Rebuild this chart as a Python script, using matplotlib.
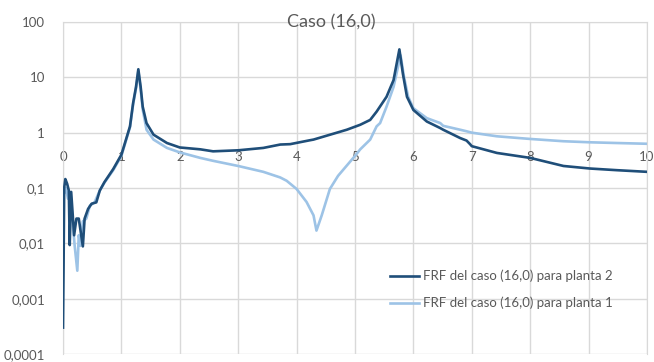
import matplotlib.pyplot as plt
from matplotlib.ticker import FixedLocator, NullLocator, FuncFormatter

# FRF planta 2 (dark)
x_p2 = [0.0, 0.01, 0.02, 0.04, 0.07, 0.1, 0.115, 0.14, 0.19, 0.23, 0.27, 0.34, 0.37,
        0.43, 0.49, 0.57, 0.63, 0.71, 0.86, 1.0, 1.147, 1.2, 1.25, 1.29, 1.33, 1.365,
        1.43, 1.55, 1.78, 2.0, 2.35, 2.57, 3.0, 3.43, 3.72, 3.89, 4.23, 4.29, 4.86,
        5.09, 5.26, 5.37, 5.54, 5.66, 5.76, 5.82, 5.89, 6.0, 6.23, 6.46, 6.51, 6.8,
        6.91, 6.97, 7.0, 7.43, 8.0, 8.57, 9.02, 9.48, 10.0]
y_p2 = [0.0003, 0.004, 0.1, 0.145, 0.12, 0.09, 0.0093, 0.085, 0.014, 0.028, 0.028, 0.0088, 0.028,
        0.042, 0.052, 0.055, 0.09, 0.128, 0.22, 0.4, 1.3, 3.4, 6.7, 14.0, 6.7, 2.95,
        1.49, 0.92, 0.65, 0.54, 0.50, 0.46, 0.48, 0.53, 0.61, 0.62, 0.73, 0.75, 1.13,
        1.39, 1.7, 2.4, 4.45, 8.9, 32.0, 11.6, 4.45, 2.57, 1.59, 1.21, 1.13, 0.80,
        0.72, 0.62, 0.57, 0.43, 0.35, 0.25, 0.225, 0.21, 0.196]

# FRF planta 1 (light)
x_p1 = [0.0, 0.02, 0.05, 0.086, 0.13, 0.17, 0.2, 0.245, 0.27, 0.30, 0.34, 0.40, 0.46,
        0.54, 0.63, 0.71, 0.86, 1.0, 1.147, 1.2, 1.25, 1.29, 1.33, 1.365, 1.43, 1.55,
        1.78, 2.0, 2.35, 2.57, 3.0, 3.43, 3.72, 3.83, 4.0, 4.17, 4.29, 4.34, 4.43,
        4.57, 4.71, 5.0, 5.09, 5.26, 5.37, 5.43, 5.54, 5.66, 5.78, 5.84, 5.91, 6.0,
        6.23, 6.46, 6.51, 6.8, 6.91, 7.0, 7.43, 8.0, 8.57, 9.02, 9.48, 10.0]
y_p1 = [0.1, 0.08, 0.1, 0.064, 0.075, 0.021, 0.009, 0.0032, 0.014, 0.009, 0.025, 0.028, 0.048,
        0.055, 0.09, 0.125, 0.21, 0.38, 1.25, 3.2, 6.3, 13.0, 6.0, 2.6, 1.13, 0.75,
        0.53, 0.44, 0.35, 0.31, 0.25, 0.196, 0.155, 0.135, 0.096, 0.056, 0.032, 0.017, 0.032,
        0.096, 0.166, 0.38, 0.50, 0.75, 1.3, 1.49, 2.95, 6.7, 25.0, 10.1, 4.45, 2.76,
        1.83, 1.49, 1.33, 1.13, 1.06, 1.0, 0.86, 0.77, 0.70, 0.67, 0.65, 0.63]

y_ticks = [0.0001, 0.001, 0.01, 0.1, 1, 10, 100]
y_labels = ['0,0001', '0,001', '0,01', '0,1', '1', '10', '100']
x_ticks = list(range(0, 11))

plt.rcParams['font.family'] = ['Lato', 'DejaVu Sans']

fig = plt.figure(figsize=(6.54, 3.62), dpi=100)
ax = fig.add_axes([63 / 654, 8 / 362, 584 / 654, 332 / 362])

grid_c = '#d9d9d9'
txt_c = '#595959'

ax.plot(x_p2, y_p2, color='#1f4e79', lw=1.9, label='FRF del caso (16,0) para planta 2', zorder=3)
ax.plot(x_p1, y_p1, color='#9dc3e6', lw=1.9, label='FRF del caso (16,0) para planta 1', zorder=2)

ax.set_yscale('log')
ax.set_xlim(0, 10)
ax.set_ylim(0.0001, 100)
ax.yaxis.set_major_locator(FixedLocator(y_ticks))
ax.yaxis.set_minor_locator(NullLocator())
ax.yaxis.set_major_formatter(FuncFormatter(lambda v, p: y_labels[y_ticks.index(min(y_ticks, key=lambda t: abs(t - v)))]))
ax.set_xticks(x_ticks)
ax.grid(True, color=grid_c, lw=1)
ax.set_axisbelow(True)

for s in ax.spines.values():
    s.set_color(grid_c)
ax.spines['bottom'].set_position(('data', 1))
ax.spines['bottom'].set_visible(False)

ax.tick_params(axis='both', length=0, colors=txt_c, labelsize=9.5)
ax.tick_params(axis='y', pad=13)
ax.tick_params(axis='x', pad=13)

fig.text(331 / 654, 1 - 22 / 362, 'Caso (16,0)', ha='center', va='center', fontsize=13, color=txt_c)

leg = ax.legend(frameon=False, loc='upper left', bbox_to_anchor=(0.54, 0.29),
                fontsize=9.5, handlelength=2.2, handletextpad=0.3, labelspacing=1.1)
for t in leg.get_texts():
    t.set_color(txt_c)

fig.savefig('out.png', dpi=100)
